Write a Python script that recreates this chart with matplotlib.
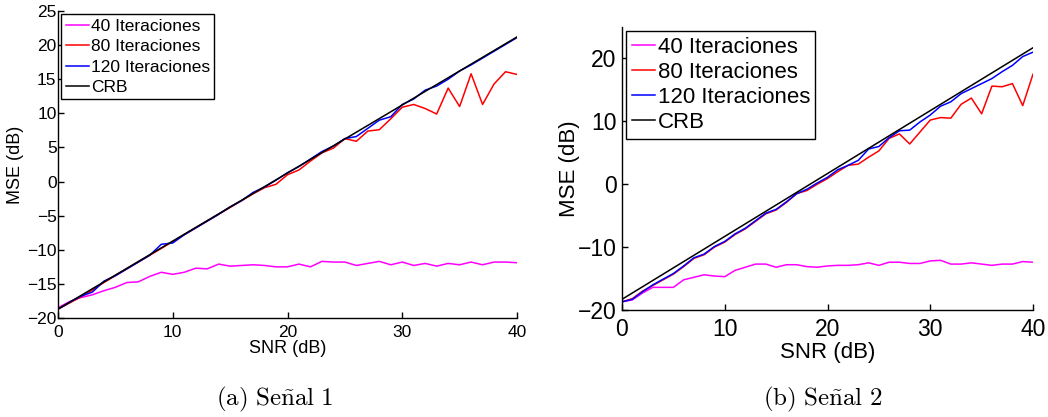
import matplotlib
matplotlib.use("Agg")
import matplotlib.pyplot as plt

plt.rcParams['font.family'] = ['Liberation Sans', 'DejaVu Sans']
plt.rcParams['mathtext.fontset'] = 'cm'

snr = list(range(0, 41))

# ---- Panel (a) Señal 1 ----
a_it40 = [-18.5, -17.6, -17.0, -16.6, -16.0, -15.5, -14.8, -14.7, -13.9, -13.3,
          -13.6, -13.3, -12.7, -12.8, -12.1, -12.4, -12.3, -12.2, -12.3, -12.5,
          -12.5, -12.1, -12.5, -11.7, -11.8, -11.8, -12.3, -12.0, -11.7, -12.2,
          -11.8, -12.3, -12.0, -12.4, -12.0, -12.2, -11.8, -12.2, -11.8, -11.8,
          -11.9]
a_it80 = [-18.7, -17.8, -16.9, -15.9, -14.8, -13.8, -12.8, -11.8, -10.8, -9.8,
          -8.8, -7.8, -6.8, -5.8, -4.8, -3.8, -2.8, -1.8, -0.9, -0.4,
          1.0, 1.7, 3.0, 4.2, 4.9, 6.3, 5.9, 7.4, 7.6, 9.2,
          10.9, 11.3, 10.7, 9.9, 13.7, 11.0, 15.8, 11.3, 14.3, 16.1,
          15.7]
a_it120 = [-18.7, -17.7, -16.8, -16.2, -14.6, -13.8, -12.8, -11.8, -10.8, -9.2,
           -9.0, -7.8, -6.8, -5.8, -4.8, -3.7, -2.8, -1.6, -0.8, 0.2,
           1.3, 2.2, 3.3, 4.4, 5.2, 6.3, 6.6, 7.8, 9.0, 9.5,
           11.3, 12.1, 13.4, 14.0, 15.0, 16.2, 17.1, 18.1, 19.1, 20.1,
           21.1]
a_crb_snr = [0, 40]
a_crb = [-18.7, 21.2]

# ---- Panel (b) Señal 2 ----
b_it40 = [-18.7, -18.4, -17.3, -16.4, -16.4, -16.4, -15.2, -14.8, -14.4, -14.6,
          -14.7, -13.7, -13.2, -12.7, -12.7, -13.2, -12.8, -12.8, -13.1, -13.2,
          -13.0, -12.9, -12.9, -12.8, -12.5, -12.9, -12.4, -12.4, -12.6, -12.6,
          -12.2, -12.1, -12.7, -12.7, -12.5, -12.7, -12.9, -12.7, -12.7, -12.3,
          -12.4]
b_it80 = [-18.7, -18.2, -17.0, -16.1, -15.2, -14.3, -13.1, -11.8, -11.2, -10.0,
          -9.2, -8.0, -7.1, -5.9, -4.7, -4.1, -2.9, -1.5, -1.0, 0.0,
          0.9, 2.0, 3.0, 3.2, 4.3, 5.3, 7.3, 8.0, 6.4, 8.3,
          10.2, 10.6, 10.5, 12.7, 13.7, 11.2, 15.6, 15.5, 16.0, 12.5,
          17.5]
b_it120 = [-18.7, -18.3, -17.1, -16.0, -15.1, -14.2, -13.0, -11.7, -11.1, -9.9,
           -9.1, -7.9, -7.0, -5.8, -4.6, -4.0, -2.8, -1.5, -0.8, 0.2,
           1.1, 2.3, 3.0, 3.8, 5.6, 6.0, 7.4, 8.5, 8.6, 9.9,
           11.0, 12.4, 13.1, 14.4, 15.2, 16.0, 16.8, 17.9, 18.9, 20.3,
           21.0]
b_crb_snr = [0, 40]
b_crb = [-18.3, 21.7]

labels = ['40 Iteraciones', '80 Iteraciones', '120 Iteraciones', 'CRB']
colors = ['#ff00ff', '#ff0000', '#0000ff', '#000000']

fig = plt.figure(figsize=(10.48, 4.17), dpi=100)
W, H = 1048, 417

def add_ax(l, r, t, b):
    return fig.add_axes([l / W, (H - b) / H, (r - l) / W, (b - t) / H])

axa = add_ax(58, 517, 11, 318)
axb = add_ax(622, 1033, 27, 310)

def draw(ax, it40, it80, it120, crbx, crb, yt, tfs, lfs, xlfs, ylfs, xlpad,
         lspace, hlen, ylpad, xpad, ypad):
    ax.plot(snr, it40, color=colors[0], lw=1.1, label=labels[0])
    ax.plot(snr, it80, color=colors[1], lw=1.1, label=labels[1])
    ax.plot(snr, it120, color=colors[2], lw=1.1, label=labels[2])
    ax.plot(crbx, crb, color=colors[3], lw=1.1, label=labels[3])
    ax.set_xlim(0, 40)
    ax.set_ylim(-20, 25)
    ax.set_xticks([0, 10, 20, 30, 40])
    ax.set_yticks(yt)
    for s in ['top', 'right']:
        ax.spines[s].set_visible(False)
    for s in ['left', 'bottom']:
        ax.spines[s].set_linewidth(1.0)
    ax.tick_params(direction='in', length=4, width=1.0, labelsize=tfs)
    ax.tick_params(axis='y', pad=ypad)
    ax.tick_params(axis='x', pad=xpad)
    ax.set_xlabel('SNR (dB)', fontsize=xlfs, labelpad=xlpad)
    ax.set_ylabel('MSE (dB)', fontsize=ylfs, labelpad=ylpad)
    leg = ax.legend(loc='upper left', fontsize=lfs, frameon=True, fancybox=False,
                    edgecolor='black', framealpha=1, borderpad=0.25,
                    labelspacing=lspace, handlelength=hlen, handletextpad=0.1,
                    borderaxespad=0.2)
    leg.get_frame().set_linewidth(1.0)

draw(axa, a_it40, a_it80, a_it120, a_crb_snr, a_crb,
     [-20, -15, -10, -5, 0, 5, 10, 15, 20, 25], 12.5, 12.5, 13, 13, 0,
     0.3, 1.35, 2, 5, 1)
draw(axb, b_it40, b_it80, b_it120, b_crb_snr, b_crb,
     [-20, -10, 0, 10, 20], 16.5, 16, 16, 16, 0.5, 0.18, 1.05, -2, 6, 4)

fig.text(275 / W, 1 - 399 / H, r'$\mathrm{(a)\ Se\tilde{n}al\ 1}$',
         ha='center', va='center', fontsize=18)
fig.text(823 / W, 1 - 399 / H, r'$\mathrm{(b)\ Se\tilde{n}al\ 2}$',
         ha='center', va='center', fontsize=18)

fig.savefig('out.png', dpi=100)
